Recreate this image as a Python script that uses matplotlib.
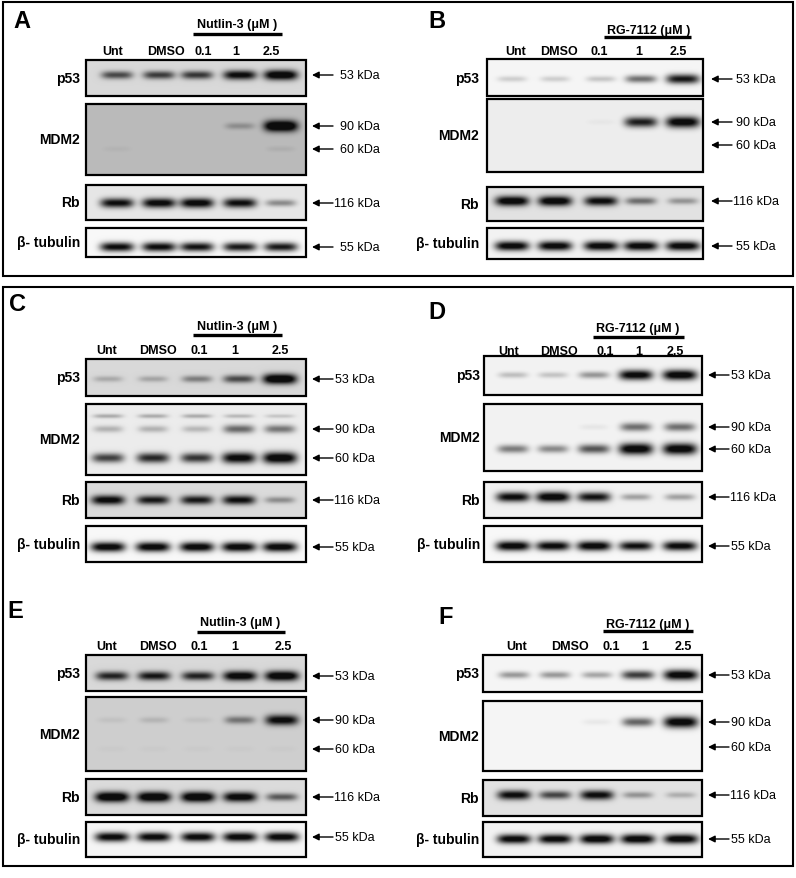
import numpy as np
import matplotlib
matplotlib.use('Agg')
import matplotlib.pyplot as plt
from matplotlib.patches import Rectangle

plt.rcParams['font.family'] = ['Liberation Sans', 'DejaVu Sans']

# -----------------------------
# band intensities (0 = no band, 1 = saturated), lanes in order below
# -----------------------------
lanes = ['Unt', 'DMSO', '0.1', '1', '2.5']

a_p53 = [0.55, 0.60, 0.62, 0.82, 0.95]
a_mdm2_90 = [0.0, 0.0, 0.0, 0.18, 0.95]
a_mdm2_60 = [0.03, 0.0, 0.0, 0.0, 0.05]
a_rb = [0.85, 0.90, 0.92, 0.85, 0.35]
a_tub = [0.92, 0.92, 0.88, 0.85, 0.85]

b_p53 = [0.15, 0.15, 0.18, 0.50, 0.85]
b_mdm2_90 = [0.0, 0.0, 0.03, 0.80, 0.97]
b_mdm2_60 = [0.0, 0.0, 0.0, 0.0, 0.0]
b_rb = [0.95, 0.95, 0.85, 0.45, 0.30]
b_tub = [0.97, 0.97, 0.97, 0.97, 0.97]

c_p53 = [0.18, 0.20, 0.35, 0.55, 1.0]
c_mdm2_90 = [0.22, 0.22, 0.20, 0.50, 0.45]
c_mdm2_60 = [0.65, 0.75, 0.70, 0.92, 1.0]
c_rb = [0.85, 0.75, 0.75, 0.80, 0.30]
c_tub = [1.0, 1.0, 1.0, 1.0, 1.0]

d_p53 = [0.20, 0.18, 0.35, 0.95, 1.0]
d_mdm2_90 = [0.0, 0.0, 0.05, 0.50, 0.50]
d_mdm2_60 = [0.45, 0.40, 0.60, 1.0, 1.0]
d_rb = [0.90, 1.0, 0.85, 0.30, 0.30]
d_tub = [1.0, 0.95, 1.0, 0.90, 0.95]

e_p53 = [0.70, 0.75, 0.70, 0.90, 0.95]
e_mdm2_90 = [0.05, 0.10, 0.05, 0.35, 0.80]
e_mdm2_60 = [0.02, 0.02, 0.02, 0.02, 0.02]
e_rb = [1.0, 1.0, 1.0, 0.90, 0.50]
e_tub = [0.95, 0.95, 0.95, 0.97, 0.97]

f_p53 = [0.35, 0.35, 0.30, 0.70, 1.0]
f_mdm2_90 = [0.0, 0.0, 0.05, 0.55, 1.0]
f_mdm2_60 = [0.0, 0.0, 0.0, 0.0, 0.0]
f_rb = [0.85, 0.60, 0.85, 0.30, 0.20]
f_tub = [0.95, 0.95, 1.0, 1.0, 1.0]

# -----------------------------
# layout (pixel coordinates, y down)
# -----------------------------
panels = [
    dict(letter='A', drug='Nutlin-3', lx=(22, 22), box=(86, 306), drug_x=237, drug_y=25,
         bar=(193, 282, 35), lane_y=52, label_x=[113, 166, 203, 236, 271],
         band_x=[117, 159, 197, 240, 281], row_x=80,
         blots=[(61, 97), (105, 176), (186, 221), (229, 258)],
         arrows=[76, 127, 150, 204, 248], head=312, txt=340,
         data=(a_p53, a_mdm2_90, a_mdm2_60, a_rb, a_tub),
         bg=(0.16, 0.28, 0.10, 0.03)),
    dict(letter='B', drug='RG-7112', lx=(437, 22), box=(487, 703), drug_x=649, drug_y=31,
         bar=(604, 691, 38), lane_y=52, label_x=[516, 559, 599, 639, 678],
         band_x=[512, 555, 601, 641, 683], row_x=479,
         blots=[(60, 97), (100, 173), (188, 222), (229, 260)],
         arrows=[80, 123, 146, 202, 247], head=711, txt=736,
         data=(b_p53, b_mdm2_90, b_mdm2_60, b_rb, b_tub),
         bg=(0.04, 0.07, 0.12, 0.05)),
    dict(letter='C', drug='Nutlin-3', lx=(17, 305), box=(86, 306), drug_x=237, drug_y=327,
         bar=(193, 282, 336), lane_y=351, label_x=[107, 158, 199, 235, 280],
         band_x=[108, 153, 197, 239, 280], row_x=80,
         blots=[(360, 397), (405, 476), (483, 519), (527, 563)],
         arrows=[380, 430, 459, 501, 548], head=312, txt=335,
         data=(c_p53, c_mdm2_90, c_mdm2_60, c_rb, c_tub),
         bg=(0.16, 0.08, 0.15, 0.03)),
    dict(letter='D', drug='RG-7112', lx=(437, 313), box=(484, 702), drug_x=638, drug_y=329,
         bar=(593, 684, 338), lane_y=352, label_x=[509, 559, 605, 639, 675],
         band_x=[513, 553, 594, 636, 680], row_x=480,
         blots=[(357, 396), (405, 472), (483, 519), (527, 563)],
         arrows=[376, 428, 450, 498, 547], head=708, txt=731,
         data=(d_p53, d_mdm2_90, d_mdm2_60, d_rb, d_tub),
         bg=(0.05, 0.05, 0.06, 0.03)),
    dict(letter='E', drug='Nutlin-3', lx=(15, 612), box=(86, 306), drug_x=240, drug_y=623,
         bar=(197, 285, 633), lane_y=647, label_x=[107, 158, 199, 235, 283],
         band_x=[112, 154, 198, 240, 282], row_x=80,
         blots=[(656, 692), (698, 772), (780, 816), (823, 858)],
         arrows=[677, 721, 750, 798, 838], head=312, txt=335,
         data=(e_p53, e_mdm2_90, e_mdm2_60, e_rb, e_tub),
         bg=(0.16, 0.20, 0.15, 0.04)),
    dict(letter='F', drug='RG-7112', lx=(446, 618), box=(483, 702), drug_x=648, drug_y=625,
         bar=(603, 693, 632), lane_y=647, label_x=[517, 570, 611, 645, 683],
         band_x=[514, 555, 597, 638, 681], row_x=479,
         blots=[(656, 693), (702, 772), (781, 817), (823, 858)],
         arrows=[676, 723, 748, 796, 840], head=708, txt=731,
         data=(f_p53, f_mdm2_90, f_mdm2_60, f_rb, f_tub),
         bg=(0.04, 0.04, 0.12, 0.05)),
]

row_names = ['p53', 'MDM2', 'Rb', 'β- tubulin']
kda = ['53 kDa', '90 kDa', '60 kDa', '116 kDa', '55 kDa']


def draw_blot(ax, x0, x1, y0, y1, band_x, rows, bg):
    # rows: list of (y_center, intensities, half thickness)
    res = 3
    xs = np.linspace(x0, x1, int((x1 - x0) * res))
    ys = np.linspace(y0, y1, int((y1 - y0) * res))
    X, Y = np.meshgrid(xs, ys)
    dark = np.full(X.shape, bg)
    for yc, vals, th in rows:
        for xc, v in zip(band_x, vals):
            if v <= 0:
                continue
            hw = 14 + 3 * v
            sy = th * (0.55 + 0.6 * v)
            prof = np.exp(-((X - xc) / hw) ** 4) * np.exp(-((Y - yc) / sy) ** 2)
            dark += 1.1 * v * prof
    dark = np.clip(dark, 0, 1)
    ax.imshow(1 - 0.95 * dark, cmap='gray', vmin=0, vmax=1, aspect='auto',
              extent=(x0, x1, y1, y0), interpolation='bilinear', zorder=1)
    ax.add_patch(Rectangle((x0, y0), x1 - x0, y1 - y0, fill=False,
                           ec='black', lw=1.6, zorder=3))


fig = plt.figure(figsize=(7.96, 8.79), dpi=100)
ax = fig.add_axes([0, 0, 1, 1])
ax.set_xlim(0, 796)
ax.set_ylim(879, 0)
ax.axis('off')

# outer frames
ax.add_patch(Rectangle((3, 3), 790, 274, fill=False, ec='black', lw=1.5))
ax.add_patch(Rectangle((3, 288), 790, 579, fill=False, ec='black', lw=1.5))

for p in panels:
    x0, x1 = p['box']
    p53, m90, m60, rb, tub = p['data']
    ar = p['arrows']
    bgs = p['bg']

    ax.text(p['lx'][0], p['lx'][1], p['letter'], fontsize=17, fontweight='bold',
            ha='center', va='center')
    ax.text(p['drug_x'], p['drug_y'], p['drug'] + ' (μM )', fontsize=9,
            fontweight='bold', ha='center', va='center')
    bx0, bx1, by = p['bar']
    ax.plot([bx0, bx1], [by, by], color='black', lw=2.4, solid_capstyle='butt')
    for lx, lab in zip(p['label_x'], lanes):
        ax.text(lx, p['lane_y'], lab, fontsize=9, fontweight='bold',
                ha='center', va='center')

    rows_per_blot = [
        [(ar[0], p53, 4.5)],
        [(ar[1], m90, 5.0), (ar[2], m60, 5.0)],
        [(ar[3], rb, 4.5)],
        [(ar[4], tub, 4.2)],
    ]
    if p['letter'] == 'C':
        # faint doublet above the 90 kDa band
        rows_per_blot[1].append((ar[1] - 13, [0.25, 0.25, 0.25, 0.2, 0.15], 3.0))
    for (y0, y1), rows, bg, name in zip(p['blots'], rows_per_blot, bgs, row_names):
        draw_blot(ax, x0, x1, y0, y1, p['band_x'], rows, bg)
        ax.text(p['row_x'], (y0 + y1) / 2, name, fontsize=10, fontweight='bold',
                ha='right', va='center')

    for y, lab in zip(ar, kda):
        ax.annotate('', xy=(p['head'], y), xytext=(p['head'] + 21, y),
                    arrowprops=dict(arrowstyle='-|>', color='black', lw=1.0,
                                    mutation_scale=10, shrinkA=0, shrinkB=0))
        tx = p['txt'] if lab != '116 kDa' else p['head'] + 22
        ax.text(tx, y, lab, fontsize=9, ha='left', va='center')

fig.savefig('out.png', dpi=100)
